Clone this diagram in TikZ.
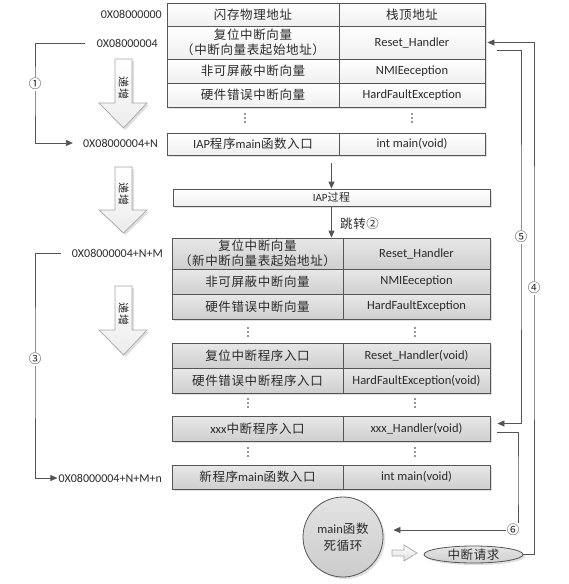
\documentclass[tikz,border=0pt]{standalone}
\usepackage{fontspec}
\setmainfont{Carlito}
\newfontfamily\cjk[LetterSpace=5]{Noto Sans CJK SC}
\usetikzlibrary{arrows.meta,shadows,calc,shapes.geometric}
\definecolor{linec}{HTML}{555555}
\definecolor{txt}{HTML}{2A2A2A}
\begin{document}
\begin{tikzpicture}[x=1pt,y=-1pt,
  cellw/.style={draw=linec, line width=0.8pt, top color=white, bottom color=gray!12,
    drop shadow={opacity=0.25, shadow xshift=2pt, shadow yshift=-2pt},
    inner sep=0pt, align=center, text=txt, font=\fontsize{12.5}{15}\selectfont},
  cellg/.style={cellw, top color=gray!18, bottom color=gray!38},
  addr/.style={anchor=east, inner sep=0pt, text=txt, font=\fontsize{12}{14}\selectfont},
  arr/.style={draw=linec, line width=0.8pt, -{Triangle[length=7pt,width=6pt]}},
  numlab/.style={fill=white, inner sep=1pt, text=txt, font=\cjk\fontsize{12.5}{12.5}\selectfont},
  dotc/.style={fill=txt},
  bigarr/.style={draw=gray!70, line width=0.7pt, top color=white, bottom color=gray!15,
    drop shadow={opacity=0.25, shadow xshift=2pt, shadow yshift=-2pt}},
  arrlab/.style={rotate=-90, inner sep=0pt, text=txt, font=\cjk\fontsize{11}{11}\selectfont}
]
\useasboundingbox (0,0) rectangle (569,584);

% ---------- top table ----------
\node[cellw, minimum width=172pt, minimum height=23pt] (t0L) at (253,14.5) {\cjk 闪存物理地址};
\node[cellw, minimum width=146pt, minimum height=23pt] (t0R) at (412,14.5) {\cjk 栈顶地址};
\node[cellw, minimum width=172pt, minimum height=33pt] (t1L) at (253,42.5) {\cjk 复位中断向量\\\cjk （中断向量表起始地址）};
\node[cellw, minimum width=146pt, minimum height=33pt] (t1R) at (412,42.5) {Reset\_Handler};
\node[cellw, minimum width=172pt, minimum height=24pt] (t2L) at (253,71) {\cjk 非可屏蔽中断向量};
\node[cellw, minimum width=146pt, minimum height=24pt] (t2R) at (412,71) {NMIEeception};
\node[cellw, minimum width=172pt, minimum height=24pt] (t3L) at (253,95) {\cjk 硬件错误中断向量};
\node[cellw, minimum width=146pt, minimum height=24pt] (t3R) at (412,95) {HardFaultException};
\foreach \xx/\yy in {245/118, 412/118, 248/332, 415/332, 248/403, 415/403, 248/452, 415/452}
  \foreach \dd in {-4,0,4} \fill[dotc] (\xx,\yy+\dd) circle (0.85pt);
\node[cellw, minimum width=172pt, minimum height=22pt] (t4L) at (253,144) {IAP{\cjk 程序}main{\cjk 函数入口}};
\node[cellw, minimum width=146pt, minimum height=22pt] (t4R) at (412,144) {int main(void)};

% ---------- IAP process ----------
\node[cellw, minimum width=317pt, minimum height=17pt, font=\fontsize{11}{12}\selectfont] (iap) at (331.5,197.5) {IAP{\cjk 过程}};

% ---------- lower table ----------
\node[cellg, minimum width=171pt, minimum height=31pt] (b0L) at (257.5,253.5) {\cjk 复位中断向量\\\cjk （新中断向量表起始地址）};
\node[cellg, minimum width=147pt, minimum height=31pt] (b0R) at (416.5,253.5) {Reset\_Handler};
\node[cellg, minimum width=171pt, minimum height=25pt] (b1L) at (257.5,281.5) {\cjk 非可屏蔽中断向量};
\node[cellg, minimum width=147pt, minimum height=25pt] (b1R) at (416.5,281.5) {NMIEeception};
\node[cellg, minimum width=171pt, minimum height=25pt] (b2L) at (257.5,306.5) {\cjk 硬件错误中断向量};
\node[cellg, minimum width=147pt, minimum height=25pt] (b2R) at (416.5,306.5) {HardFaultException};
\node[cellg, minimum width=171pt, minimum height=25pt] (b3L) at (257.5,355.5) {\cjk 复位中断程序入口};
\node[cellg, minimum width=147pt, minimum height=25pt] (b3R) at (416.5,355.5) {Reset\_Handler(void)};
\node[cellg, minimum width=171pt, minimum height=25pt] (b4L) at (257.5,380.5) {\cjk 硬件错误中断程序入口};
\node[cellg, minimum width=147pt, minimum height=25pt] (b4R) at (416.5,380.5) {HardFaultException(void)};
\node[cellg, minimum width=171pt, minimum height=25pt] (b5L) at (257.5,428.5) {xxx{\cjk 中断程序入口}};
\node[cellg, minimum width=147pt, minimum height=25pt] (b5R) at (416.5,428.5) {xxx\_Handler(void)};
\node[cellg, minimum width=171pt, minimum height=24pt] (b6L) at (257.5,477) {{\cjk 新程序}main{\cjk 函数入口}};
\node[cellg, minimum width=147pt, minimum height=24pt] (b6R) at (416.5,477) {int main(void)};

% ---------- addresses ----------
\node[addr] (a0) at (162,14) {0X08000000};
\node[addr] (a1) at (158,43) {0X08000004};
\node[addr] (a2) at (158,143) {0X08000004+N};
\node[addr] (a3) at (163,253) {0X08000004+N+M};
\node[addr] (a4) at (162,478) {0X08000004+N+M+n};

% ---------- left brackets ----------
\coordinate (c1) at (35,90);
\coordinate (c3) at (35,360);
\draw[arr] ([xshift=-12pt]a1.west) -| (c1) |- ([xshift=-10pt]a2.west);
\node[numlab] (n1) at (35,84) {①};
\draw[arr] ([xshift=-11pt]a3.west) -| (c3) |- ([xshift=-1pt]a4.west);
\node[numlab] (n3) at (35,359) {③};

% ---------- big hollow arrows ----------
\draw[bigarr] (115,59) -- (132,59) -- (132,103) -- (147,103) -- (123.5,128) -- (99,103) -- (115,103) -- cycle;
\node[arrlab] (g1) at (123.5,88) {递增};
\draw[bigarr] (115,167) -- (132,167) -- (132,210) -- (147,210) -- (123.5,233) -- (99,210) -- (115,210) -- cycle;
\node[arrlab] (g2) at (123.5,194) {递增};
\draw[bigarr] (115,286) -- (132,286) -- (132,330) -- (147,330) -- (123.5,355) -- (99,330) -- (115,330) -- cycle;
\node[arrlab] (g3) at (123.5,314) {递增};

% ---------- central arrows ----------
\draw[arr] ($(iap.north |- t4L.south)+(0,8)$) -- (iap.north);
\draw[arr] (iap.south) -- (iap.south |- b0L.north);
\node[anchor=west, inner sep=0pt, text=txt, font=\cjk\fontsize{12.5}{13}\selectfont] (jump) at (340,224) {跳转②};

% ---------- main loop & interrupt ----------
\node[circle, draw=linec, line width=0.8pt, top color=gray!22, bottom color=gray!40,
  drop shadow={opacity=0.25, shadow xshift=2pt, shadow yshift=-2pt},
  minimum size=80pt, inner sep=0pt, align=center, text=txt,
  font=\fontsize{12.5}{17}\selectfont] (mainc) at (343,537) {main{\cjk 函数}\\{\cjk 死循环}};
\node[ellipse, draw=linec, line width=0.8pt, top color=gray!20, bottom color=gray!38,
  drop shadow={opacity=0.25, shadow xshift=2pt, shadow yshift=-2pt},
  minimum width=99pt, minimum height=17pt, inner sep=0pt, text=txt,
  font=\cjk\fontsize{12.5}{12.5}\selectfont] (req) at (473.5,554.5) {中断请求};
\draw[draw=gray!70, line width=0.7pt, top color=white, bottom color=gray!25]
  (392,550) -- (404,550) -- (404,545) -- (417,553) -- (404,561) -- (404,556) -- (392,556) -- cycle;

% ---------- right connectors ----------
\coordinate (c4) at (534,288);
\coordinate (c5) at (521,237);
\coordinate (c6) at (518,480);
\draw[arr, shorten >=2pt] (req.east) -| (c4) |- (t1R.east);
\draw[arr, shorten >=7pt] ([xshift=12pt,yshift=-8pt]t1R.east) -| (c5) |- ([yshift=5pt]b5R.east);
\draw[arr, shorten >=10pt] ([xshift=7pt,yshift=-4pt]b5R.east) -| (c6) |- ([yshift=7pt]mainc.east);
\node[numlab] (n4) at (534,288) {④};
\node[numlab] (n5) at (521,237) {⑤};
\node[numlab] (n6) at (513,530) {⑥};
\end{tikzpicture}
\end{document}
